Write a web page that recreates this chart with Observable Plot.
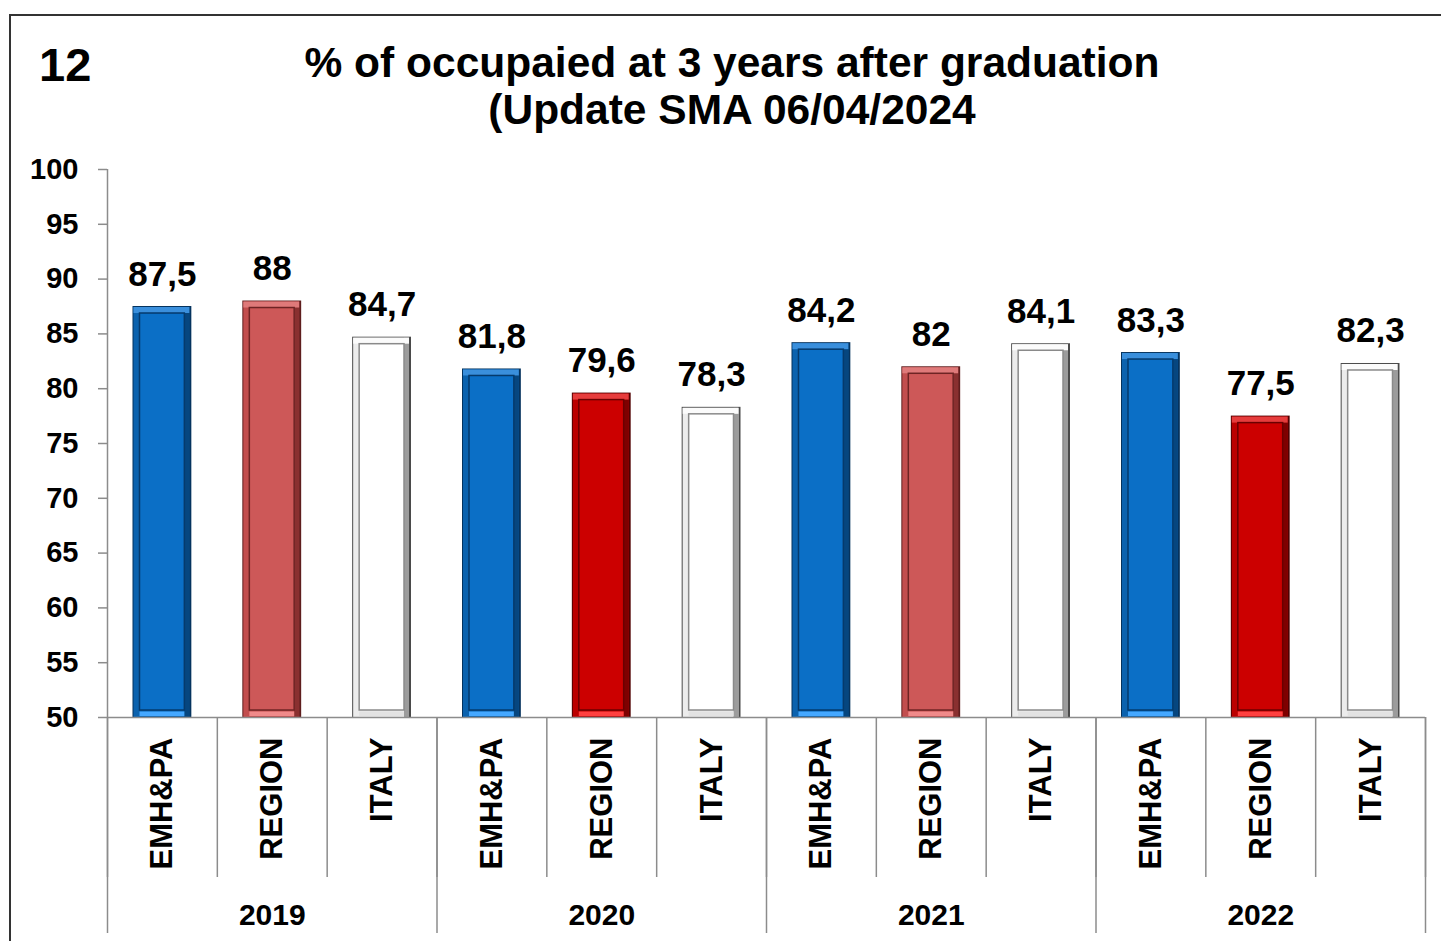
<!DOCTYPE html>
<html><head><meta charset="utf-8">
<script src="https://cdn.jsdelivr.net/npm/d3@7"></script>
<script src="https://cdn.jsdelivr.net/npm/@observablehq/plot@0.6"></script>
<style>
html,body{margin:0;padding:0;background:#fff;overflow:hidden;}
body{width:1441px;height:941px;position:relative;font-family:"Liberation Sans",Arial,sans-serif;color:#000;}
#frame{position:absolute;left:9px;top:14px;right:-5px;bottom:-5px;border-top:2px solid #333;border-left:2px solid #333;}
#num{position:absolute;left:39px;top:42px;font-size:47px;font-weight:bold;line-height:46px;white-space:nowrap;}
#title{position:absolute;left:232px;width:1000px;top:39px;text-align:center;font-size:42.5px;font-weight:bold;line-height:47px;white-space:nowrap;}
#chart{position:absolute;left:0;top:140px;}
</style></head>
<body>
<div id="frame"></div>
<div id="num">12</div>
<div id="title">% of occupaied at 3 years after graduation<br>(Update SMA 06/04/2024</div>
<div id="chart"></div>
<script>
const years = ["2019", "2020", "2021", "2022"];
const categories = ["EMH&PA", "REGION", "ITALY"];
const emhpa  = [87.5, 81.8, 84.2, 83.3];
const region = [88, 79.6, 82, 77.5];
const italy  = [84.7, 78.3, 84.1, 82.3];
const yTicks = [50, 55, 60, 65, 70, 75, 80, 85, 90, 95, 100];

const series = {"EMH&PA": emhpa, "REGION": region, "ITALY": italy};
const rows = [];
years.forEach((year, g) => categories.forEach((cat, j) =>
  rows.push({i: g * 3 + j, year, cat, value: series[cat][g]})));
const groups = years.map((year, g) => ({year, start: g * 3}));

const palettes = {
  blue:  {edge: "#05335e", left: "#0b62ae", right: "#06467f", top: "#3a8fdc", bottom: "#45a8ff", face: "#0b6fc6", line: "#053a6c"},
  rose:  {edge: "#5e1d1d", left: "#c24e4e", right: "#8a3030", top: "#df7a7a", bottom: "#f08a8a", face: "#cd5858", line: "#6e2424"},
  red:   {edge: "#500000", left: "#bb0000", right: "#7e0000", top: "#e63c3c", bottom: "#ff4040", face: "#cc0000", line: "#6a0000"},
  white: {edge: "#4a4a4a", left: "#ececec", right: "#9c9c9c", top: "#fbfbfb", bottom: "#e2e2e2", face: "#ffffff", line: "#8a8a8a"}
};
function shade(d) {
  if (d.cat === "EMH&PA") return palettes.blue;
  if (d.cat === "ITALY") return palettes.white;
  return (d.year === "2019" || d.year === "2021") ? palettes.rose : palettes.red;
}
const fmt = v => String(v).replace(".", ",");

const W = 1441, H = 801, mL = 107, mR = 16, mT = 29, mB = 224;
const band = (W - mL - mR) / 12;
const bi = 25.5;               // gap between band edge and bar
const bw = band - 2 * bi;      // bar width
const bev = 7;                 // bevel width
const grey = "#8c8c8c";

const common = {x1: d => d.i, x2: d => d.i + 1};

const chart = Plot.plot({
  width: W, height: H,
  marginLeft: mL, marginRight: mR, marginTop: mT, marginBottom: mB,
  x: {domain: [0, 12]},
  y: {domain: [50, 100]},
  color: {type: "identity"},
  style: {fontFamily: "'Liberation Sans', Arial, sans-serif", fontWeight: "bold", color: "#000", background: "transparent", overflow: "visible"},
  marks: [
    // bars with bevel layers
    Plot.rectY(rows, {...common, y1: 50, y2: "value", fill: d => shade(d).edge, insetLeft: bi, insetRight: bi}),
    Plot.rectY(rows, {...common, y1: 50, y2: "value", fill: d => shade(d).left, insetLeft: bi + 1, insetRight: bi + 2, insetTop: 1}),
    Plot.rectY(rows, {...common, y1: 50, y2: "value", fill: d => shade(d).right, insetLeft: bi + bw - bev, insetRight: bi + 2, insetTop: 1}),
    Plot.rectY(rows, {...common, y1: "value", y2: "value", fill: d => shade(d).top, insetLeft: bi + 1, insetRight: bi + 2, insetTop: 1, insetBottom: -bev}),
    Plot.rectY(rows, {...common, y1: 50, y2: 50, fill: d => shade(d).bottom, insetLeft: bi + bev, insetRight: bi + bev, insetTop: -bev + 1.5, insetBottom: 1}),
    Plot.rectY(rows, {...common, y1: 50, y2: "value", fill: d => shade(d).face, stroke: d => shade(d).line, strokeWidth: 1.5,
      insetLeft: bi + bev, insetRight: bi + bev, insetTop: bev, insetBottom: bev}),
    // axes
    Plot.ruleX([0], {y1: 50, y2: 100, stroke: grey, strokeWidth: 1.5}),
    Plot.ruleY([50], {stroke: grey, strokeWidth: 1.5}),
    Plot.axisY(yTicks, {tickSize: 9, tickPadding: 20, fontSize: 29, fontWeight: "bold", stroke: grey, strokeWidth: 1.5, fill: "#000", label: null}),
    Plot.axisX(d3.range(0, 13), {tickSize: 160, tickFormat: () => "", stroke: grey, strokeWidth: 1.5, label: null}),
    Plot.axisX(groups.map(g => g.start).concat([12]), {tickSize: 216, tickFormat: () => "", stroke: grey, strokeWidth: 1.5, label: null}),
    // category labels
    Plot.text(rows, {x: d => d.i + 0.5, frameAnchor: "bottom", dy: 20, rotate: -90, textAnchor: "end", lineAnchor: "middle",
      text: "cat", fontSize: 31, fontWeight: "bold", fill: "#000"}),
    // year labels
    Plot.text(groups, {x: d => d.start + 1.5, frameAnchor: "bottom", dy: 198, lineAnchor: "middle",
      text: "year", fontSize: 30, fontWeight: "bold", fill: "#000"}),
    // value labels
    Plot.text(rows, {x: d => d.i + 0.5, y: "value", dy: -21, lineAnchor: "bottom",
      text: d => fmt(d.value), fontSize: 35, fontWeight: "bold", fill: "#000"})
  ]
});
document.getElementById("chart").appendChild(chart);
</script>
</body></html>
